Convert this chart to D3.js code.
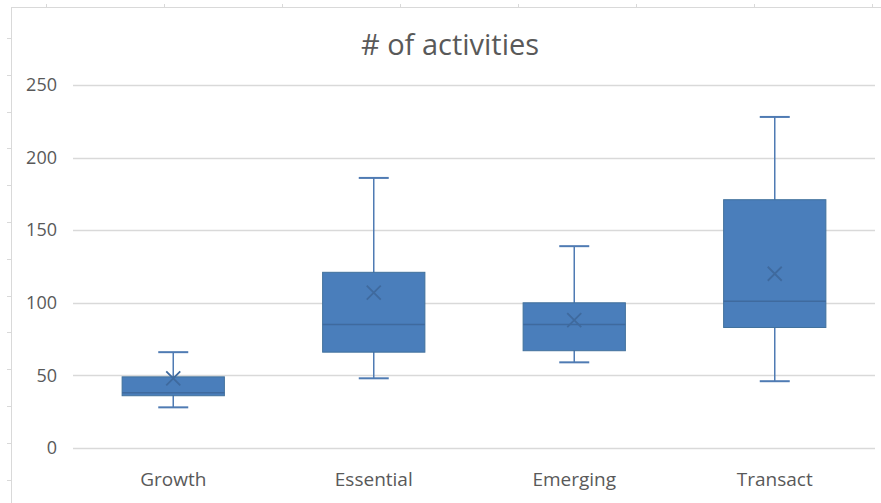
<!DOCTYPE html>
<html>
<head>
<meta charset="utf-8">
<script src="https://cdn.jsdelivr.net/npm/d3@7"></script>
<style>
    body { margin: 0; background: #fff; }
    svg text { font-family: "Open Sans", sans-serif; fill: #595959; }
</style>
</head>
<body>
<svg id="chart"></svg>
<script>
// box plot values
const categories = ['Growth', 'Essential', 'Emerging', 'Transact'];
const whiskerLow = [28, 48, 59, 46];
const q1 = [36, 66, 67, 83];
const median = [38, 85, 85, 101];
const q3 = [49, 121, 100, 171];
const whiskerHigh = [66, 186, 139, 228];
const mean = [48, 107, 88, 120];
const yTicks = [0, 50, 100, 150, 200, 250];

const title = '# of activities';

const width = 881, height = 503;
const margin = {top: 85, right: 6, bottom: 55, left: 73};

const svg = d3.select('#chart')
    .attr('width', width)
    .attr('height', height);

// spreadsheet edge behind the chart
const edge = svg.append('g').attr('stroke', '#d9d9d9').attr('fill', 'none');
edge.append('rect')
    .attr('x', 11.5).attr('y', 7.5)
    .attr('width', 1000).attr('height', 1000);
d3.range(38, height, 36.8).forEach(y => {
    edge.append('line').attr('x1', 7).attr('x2', 11).attr('y1', Math.round(y) + 0.5).attr('y2', Math.round(y) + 0.5);
});
d3.range(45.5, width, 118).forEach(x => {
    edge.append('line').attr('x1', Math.round(x) + 0.5).attr('x2', Math.round(x) + 0.5).attr('y1', 4).attr('y2', 7);
});

const rows = categories.map((c, i) => ({
    name: c, lo: whiskerLow[i], q1: q1[i], med: median[i], q3: q3[i], hi: whiskerHigh[i], mean: mean[i]
}));

const x = d3.scaleBand()
    .domain(categories)
    .range([margin.left, width - margin.right]);

const y = d3.scaleLinear()
    .domain([0, 250])
    .range([height - margin.bottom, margin.top]);

// gridlines
svg.append('g')
    .selectAll('line')
    .data(yTicks)
    .join('line')
        .attr('x1', margin.left)
        .attr('x2', width - margin.right)
        .attr('y1', d => Math.round(y(d)) + 0.5)
        .attr('y2', d => Math.round(y(d)) + 0.5)
        .attr('stroke', '#d9d9d9')
        .attr('stroke-width', 1.5);

// y axis labels
const yAxis = svg.append('g')
    .attr('transform', `translate(${margin.left - 16},0)`)
    .call(d3.axisLeft(y).tickValues(yTicks).tickSize(0).tickPadding(0));
yAxis.select('.domain').remove();
yAxis.selectAll('text')
    .style('font-size', '18px')
    .attr('fill', '#595959');

// x axis labels
const xAxis = svg.append('g')
    .attr('transform', `translate(0,${height - margin.bottom})`)
    .call(d3.axisBottom(x).tickSize(0).tickPadding(25));
xAxis.select('.domain').remove();
xAxis.selectAll('text')
    .style('font-size', '19px')
    .attr('fill', '#595959');

// boxes
const boxW = x.bandwidth() * 0.51;
const capW = 30;
const blue = '#4a7ebb';
const dark = '#3f6a9e';

const g = svg.append('g')
    .selectAll('g')
    .data(rows)
    .join('g')
        .attr('transform', d => `translate(${x(d.name) + x.bandwidth() / 2},0)`);

g.append('line')
    .attr('x1', 0).attr('x2', 0)
    .attr('y1', d => y(d.hi)).attr('y2', d => y(d.lo))
    .attr('stroke', '#4f7bb3').attr('stroke-width', 1.5);

g.append('line')
    .attr('x1', -capW / 2).attr('x2', capW / 2)
    .attr('y1', d => y(d.hi)).attr('y2', d => y(d.hi))
    .attr('stroke', '#4f7bb3').attr('stroke-width', 2);

g.append('line')
    .attr('x1', -capW / 2).attr('x2', capW / 2)
    .attr('y1', d => y(d.lo)).attr('y2', d => y(d.lo))
    .attr('stroke', '#4f7bb3').attr('stroke-width', 2);

g.append('rect')
    .attr('x', -boxW / 2)
    .attr('width', boxW)
    .attr('y', d => y(d.q3))
    .attr('height', d => y(d.q1) - y(d.q3))
    .attr('fill', blue)
    .attr('stroke', '#41719c')
    .attr('stroke-width', 1);

g.append('line')
    .attr('x1', -boxW / 2).attr('x2', boxW / 2)
    .attr('y1', d => y(d.med)).attr('y2', d => y(d.med))
    .attr('stroke', dark).attr('stroke-width', 1.5);

const m = 7;
g.append('path')
    .attr('d', d => `M${-m},${y(d.mean) - m}L${m},${y(d.mean) + m}M${-m},${y(d.mean) + m}L${m},${y(d.mean) - m}`)
    .attr('stroke', dark)
    .attr('stroke-width', 1.8)
    .attr('fill', 'none');

// title
svg.append('text')
    .attr('x', 450)
    .attr('y', 55)
    .attr('text-anchor', 'middle')
    .style('font-size', '29px')
    .text(title);
</script>
</body>
</html>
